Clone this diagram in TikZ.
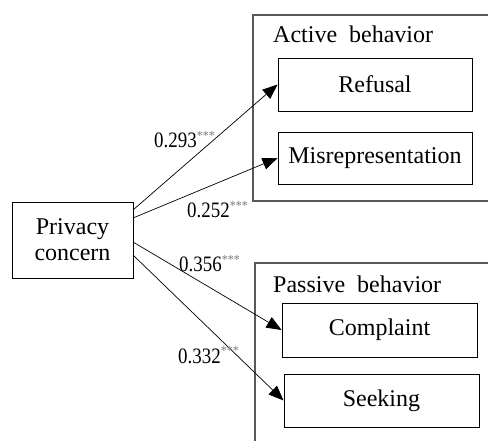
\documentclass[tikz,border=0pt]{standalone}
\usepackage{fontspec}
\setmainfont{Liberation Serif}
\newfontfamily\nodefont{Liberation Serif}
\newfontfamily\labfont[FakeStretch=0.86]{Liberation Serif}
\usetikzlibrary{arrows.meta}
\tikzset{
  box/.style={draw=black, line width=0.9pt, inner sep=0pt, font=\nodefont\fontsize{24}{26}\selectfont},
  group/.style={draw=black!65, line width=1.4pt},
  grouplabel/.style={anchor=base west, inner sep=0pt, font=\nodefont\fontsize{24}{26}\selectfont},
  conn/.style={draw=black, line width=0.7pt, -{Triangle[length=15pt,width=12pt]}},
  coef/.style={anchor=base west, inner sep=0pt, font=\labfont\fontsize{22}{24}\selectfont}
}
\newcommand{\stars}{\textsuperscript{\color{black!50}\fontsize{14}{14}\selectfont ***}}
\begin{document}
\begin{tikzpicture}[x=1pt,y=-1pt]
\useasboundingbox (0,0) rectangle (488,441);
% group frames
\draw[group] (492,15) -- (253,15) -- (253,201) -- (492,201);
\draw[group] (492,263) -- (255,263) -- (255,446);
\node[grouplabel] (actlab) at (273,43) {Active\ \ behavior};
\node[grouplabel] (paslab) at (273,292) {Passive\ \ behavior};
% nodes
\node[box, minimum width=121pt, minimum height=76pt, align=center] (priv) at (72.5,240) {Privacy\\concern};
\node[box, minimum width=194pt, minimum height=53pt] (ref) at (375,84.5) {Refusal};
\node[box, minimum width=194pt, minimum height=52pt] (mis) at (375,158) {Misrepresentation};
\node[box, minimum width=195pt, minimum height=54pt] (com) at (379.5,330) {Complaint};
\node[box, minimum width=195pt, minimum height=53pt] (see) at (381.5,400.5) {Seeking};
% start points on privacy box
\coordinate (s1) at (133,210);
\coordinate (s2) at (133,218);
\coordinate (s3) at (133,242);
\coordinate (s4) at (133,255);
\draw[conn] (s1) -- (ref.west);
\draw[conn] (s2) -- (mis.west);
\draw[conn] (s3) -- (com.west);
\draw[conn] (s4) -- (see.west);
% coefficients
\node[coef] (c1) at (154,148) {0.293\stars};
\node[coef] (c2) at (187,218) {0.252\stars};
\node[coef] (c3) at (179,272) {0.356\stars};
\node[coef] (c4) at (178,363) {0.332\stars};
\end{tikzpicture}
\end{document}
